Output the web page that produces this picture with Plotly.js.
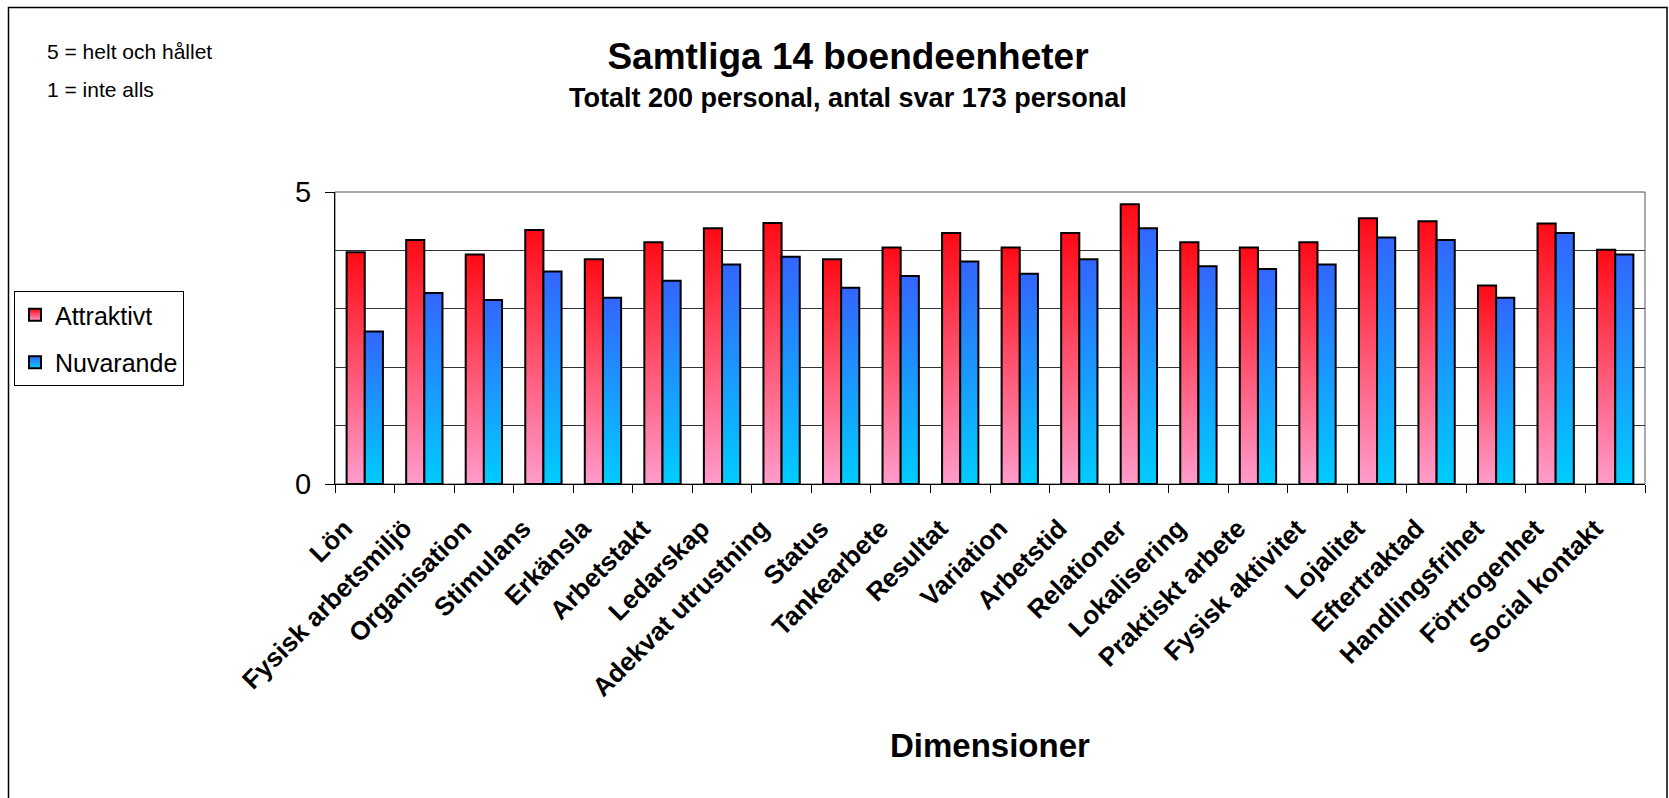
<!DOCTYPE html>
<html>
<head>
<meta charset="utf-8">
<script src="https://cdn.plot.ly/plotly-3.0.1.min.js"></script>
<style>
  html, body { margin: 0; padding: 0; background: #fff; }
  #chart { width: 1669px; height: 798px; }
</style>
</head>
<body>
<div id="chart"></div>
<script>
// ---- Data ----
const categories = [
  "Lön", "Fysisk arbetsmiljö", "Organisation", "Stimulans", "Erkänsla",
  "Arbetstakt", "Ledarskap", "Adekvat utrustning", "Status", "Tankearbete",
  "Resultat", "Variation", "Arbetstid", "Relationer", "Lokalisering",
  "Praktiskt arbete", "Fysisk aktivitet", "Lojalitet", "Eftertraktad",
  "Handlingsfrihet", "Förtrogenhet", "Social kontakt"
];
const attraktivt = [3.97, 4.18, 3.93, 4.35, 3.85, 4.14, 4.38, 4.47, 3.85, 4.05,
                    4.30, 4.05, 4.30, 4.79, 4.14, 4.05, 4.14, 4.55, 4.50, 3.40, 4.46, 4.01];
const nuvarande  = [2.61, 3.27, 3.15, 3.64, 3.19, 3.48, 3.76, 3.89, 3.36, 3.56,
                    3.81, 3.60, 3.85, 4.38, 3.73, 3.68, 3.76, 4.22, 4.18, 3.19, 4.30, 3.93];
const seriesNames = ["Attraktivt", "Nuvarande"];
const yTickVals = [0, 5];
const yTickText = ["0", "5"];
const titleText = "Samtliga 14 boendeenheter";
const subtitleText = "Totalt 200 personal, antal svar 173 personal";
const xTitleText = "Dimensioner";
const noteLines = ["5 = helt och hållet", "1 = inte alls"];

// ---- Layout constants (pixels) ----
const W = 1669, H = 798;
const L = 335, R = 1645, T = 192, B = 484;
const pw = R - L, ph = B - T;
const px = x => (x - L) / pw;          // pixel x -> paper x
const py = y => (B - y) / ph;          // pixel y -> paper y
const FONT = "Liberation Sans, Arial, sans-serif";

const traces = [
  {
    type: "bar", name: seriesNames[0], x: categories, y: attraktivt,
    legendgroup: "a",
    marker: { color: "#ff5a78", line: { color: "#000", width: 2 } },
    hoverinfo: "skip"
  },
  {
    type: "bar", name: seriesNames[1], x: categories, y: nuvarande,
    legendgroup: "b",
    marker: { color: "#2a8cff", line: { color: "#000", width: 2 } },
    hoverinfo: "skip"
  }
];

const layout = {
  width: W, height: H,
  margin: { l: L, r: W - R, t: T, b: H - B, pad: 0 },
  paper_bgcolor: "#fff", plot_bgcolor: "#fff",
  font: { family: FONT, color: "#000" },
  barmode: "group", bargap: 0.39, bargroupgap: 0,
  showlegend: true,
  legend: {
    x: px(14), xanchor: "left", y: py(291), yanchor: "top",
    xref: "paper", yref: "paper",
    bgcolor: "#fff", bordercolor: "#000", borderwidth: 1,
    font: { family: FONT, size: 25, color: "#000" },
    traceorder: "grouped", tracegroupgap: 12
  },
  title: {
    text: "<b>" + titleText + "</b>",
    font: { family: FONT, size: 37, color: "#000" },
    xref: "container", yref: "container",
    x: 848 / W, xanchor: "center",
    y: 1 - 56 / H, yanchor: "middle"
  },
  xaxis: {
    type: "category",
    tickangle: -45,
    tickfont: { family: FONT, size: 26, color: "#000", weight: "bold" },
    ticks: "outside", ticklen: 8, tickcolor: "#000", tickwidth: 1,
    tickson: "boundaries",
    ticklabelstandoff: 18, ticklabelshift: -20,
    showline: true, linecolor: "#000", linewidth: 1,
    showgrid: false, zeroline: false,
    fixedrange: true
  },
  yaxis: {
    range: [0, 5],
    tickmode: "array", tickvals: yTickVals, ticktext: yTickText,
    tickfont: { family: FONT, size: 29, color: "#000" },
    ticks: "outside", ticklen: 9, tickcolor: "#000", tickwidth: 1,
    ticklabelstandoff: 8,
    showline: true, linecolor: "#000", linewidth: 1,
    showgrid: true, gridcolor: "#444", gridwidth: 1,
    zeroline: false,
    minor: { dtick: 1, tick0: 0, showgrid: true, gridcolor: "#333", gridwidth: 1, ticks: "" },
    fixedrange: true
  },
  shapes: [
    // outer chart frame
    { type: "rect", xref: "paper", yref: "paper",
      x0: px(8.5), x1: px(1667), y0: py(805), y1: py(7.5),
      line: { color: "#000", width: 1.5 }, fillcolor: "rgba(0,0,0,0)", layer: "below" },
    // plot-area border (top / right)
    { type: "rect", xref: "paper", yref: "paper",
      x0: 0, x1: 1, y0: 0, y1: 1,
      line: { color: "#555", width: 1 }, fillcolor: "rgba(0,0,0,0)", layer: "below" }
  ],
  annotations: [
    { text: "<b>" + subtitleText + "</b>", xref: "paper", yref: "paper",
      x: px(848), y: py(98), xanchor: "center", yanchor: "middle", showarrow: false,
      font: { family: FONT, size: 27, color: "#000" } },
    { text: "<b>" + xTitleText + "</b>", xref: "paper", yref: "paper",
      x: px(990), y: py(745), xanchor: "center", yanchor: "middle", showarrow: false,
      font: { family: FONT, size: 33, color: "#000" } },
    { text: noteLines[0], xref: "paper", yref: "paper",
      x: px(45), y: py(51), xanchor: "left", yanchor: "middle", showarrow: false,
      font: { family: FONT, size: 21, color: "#000" } },
    { text: noteLines[1], xref: "paper", yref: "paper",
      x: px(45), y: py(89), xanchor: "left", yanchor: "middle", showarrow: false,
      font: { family: FONT, size: 21, color: "#000" } }
  ]
};

function addGradients(gd) {
  const svg = gd.querySelector("svg.main-svg");
  if (!svg) return;
  let defs = svg.querySelector("defs");
  if (!defs) { defs = document.createElementNS("http://www.w3.org/2000/svg", "defs"); svg.insertBefore(defs, svg.firstChild); }
  const mk = (id, top, bottom) => {
    const g = document.createElementNS("http://www.w3.org/2000/svg", "linearGradient");
    g.setAttribute("id", id);
    g.setAttribute("x1", "0"); g.setAttribute("y1", "0");
    g.setAttribute("x2", "0"); g.setAttribute("y2", "1");
    const s1 = document.createElementNS("http://www.w3.org/2000/svg", "stop");
    s1.setAttribute("offset", "0"); s1.setAttribute("stop-color", top);
    const s2 = document.createElementNS("http://www.w3.org/2000/svg", "stop");
    s2.setAttribute("offset", "1"); s2.setAttribute("stop-color", bottom);
    g.appendChild(s1); g.appendChild(s2);
    defs.appendChild(g);
  };
  mk("gradA", "#ff0a14", "#ff9ccc");
  mk("gradB", "#3366ff", "#00ccff");
  const ids = ["gradA", "gradB"];
  gd.querySelectorAll("g.barlayer g.trace.bars").forEach((tr, i) => {
    tr.querySelectorAll("g.point path").forEach(p => p.style.setProperty("fill", "url(#" + ids[i] + ")"));
  });
  gd.querySelectorAll("g.legend g.traces").forEach((tr, i) => {
    tr.querySelectorAll("g.legendpoints path").forEach(p => p.style.setProperty("fill", "url(#" + ids[i] + ")"));
  });
}

Plotly.newPlot("chart", traces, layout, { staticPlot: true, displayModeBar: false, responsive: false })
  .then(addGradients);
</script>
</body>
</html>
